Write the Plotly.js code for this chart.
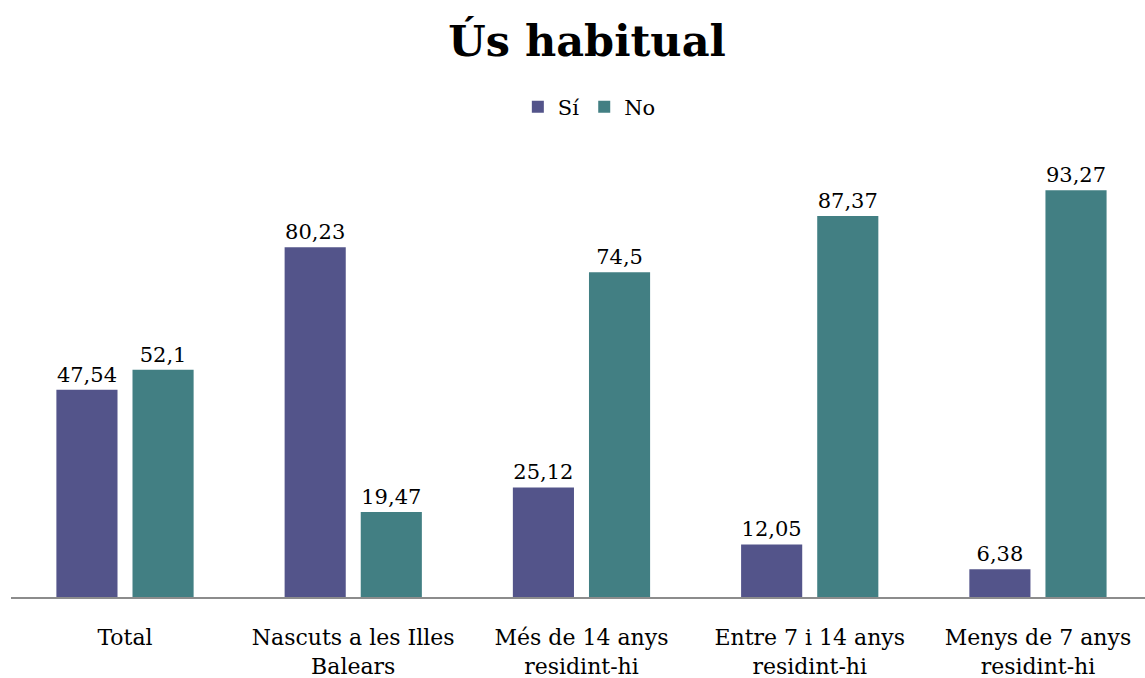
<!DOCTYPE html>
<html><head><meta charset="utf-8">
<script src="https://cdn.plot.ly/plotly-3.0.1.min.js"></script>
<style>html,body{margin:0;padding:0;background:#fff}#chart{width:1145px;height:678px}</style>
</head><body><div id="chart"></div>
<script>
const categories = ["Total", "Nascuts a les Illes<br>Balears", "Més de 14 anys<br>residint-hi", "Entre 7 i 14 anys<br>residint-hi", "Menys de 7 anys<br>residint-hi"];
const siValues = [47.54, 80.23, 25.12, 12.05, 6.38];
const noValues = [52.1, 19.47, 74.5, 87.37, 93.27];
const seriesNames = ["Sí", "No"];

const fmt = v => String(v).replace('.', ',');
const font = "DejaVu Serif, Georgia, serif";

const traces = [
  {type:'bar', name:seriesNames[0], x:categories, y:siValues, marker:{color:'#53548A'},
   text:siValues.map(fmt), textposition:'outside', cliponaxis:false,
   textfont:{family:font, size:21, color:'#000'}, hoverinfo:'none'},
  {type:'bar', name:seriesNames[1], x:categories, y:noValues, marker:{color:'#427F83'},
   text:noValues.map(fmt), textposition:'outside', cliponaxis:false,
   textfont:{family:font, size:21, color:'#000'}, hoverinfo:'none'}
];

const layout = {
  width:1145, height:678,
  margin:{l:11, r:0, t:161, b:81, autoexpand:false},
  paper_bgcolor:'#fff', plot_bgcolor:'#fff',
  font:{family:font, color:'#000'},
  title:{text:'<b>Ús habitual</b>', font:{family:font, size:43, color:'#000'}, x:0.508, xanchor:'center', xref:'paper', yref:'container', y:0.94, yanchor:'middle'},
  showlegend:true,
  legend:{orientation:'h', x:0.51, xanchor:'center', yref:'container', y:0.842, yanchor:'middle', font:{family:font, size:21, color:'#000'}, traceorder:'normal'},
  barmode:'group', bargap:0.333, bargroupgap:0.197,
  xaxis:{type:'category', range:[-0.4995, 4.469], showline:true, linecolor:'#8c8c8c', linewidth:2,
    showgrid:false, zeroline:false, ticks:'outside', ticklen:20, tickcolor:'rgba(0,0,0,0)',
    tickfont:{family:font, size:22, color:'#000'}, fixedrange:true, automargin:false},
  yaxis:{range:[0,100], visible:false, showgrid:false, zeroline:false, fixedrange:true}
};

Plotly.newPlot('chart', traces, layout, {displayModeBar:false, staticPlot:true});
</script></body></html>
